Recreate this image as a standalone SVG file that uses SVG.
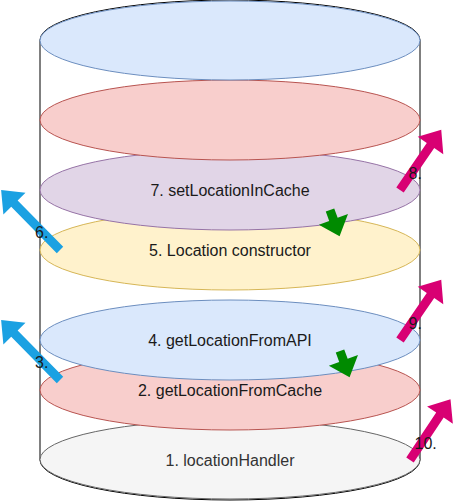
<svg xmlns="http://www.w3.org/2000/svg" xmlns:xlink="http://www.w3.org/1999/xlink" width="453" height="501" viewBox="0 0 453 501">
<style>
.lbl{font-family:"Liberation Sans",Arial,sans-serif;font-size:16px;text-anchor:middle;fill:#1a1a1a}
.albl{font-family:"Liberation Sans",Arial,sans-serif;font-size:16px;fill:#1a1a1a}
.blue{fill:#dae8fc;stroke:#6c8ebf}
.red{fill:#f8cecc;stroke:#b85450}
.purple{fill:#e1d5e7;stroke:#9673a6}
.yellow{fill:#fff2cc;stroke:#d6b656}
.grey{fill:#f5f5f5;stroke:#666666}
.ab{fill:#1ba1e2}
.ap{fill:#d80073}
.ag{fill:#008a00}
</style>
<defs>
<path id="arrLong" d="M0,-4.5 L65,-4.5 L65,-15.5 L84,0 L65,15.5 L65,4.5 L0,4.5 Z"/>
<path id="arrMid" d="M0,-4.5 L54,-4.5 L54,-15.5 L73,0 L54,15.5 L54,4.5 L0,4.5 Z"/>
<path id="arrShort" d="M0,-4.5 L10,-4.5 L10,-15.5 L28,0 L10,15.5 L10,4.5 L0,4.5 Z"/>
</defs>
<g id="cylinder">
<path d="M40,40 A190,40 0 0 1 420,40 L420,460 A190,40 0 0 1 40,460 Z" fill="#ffffff" stroke="#000000" stroke-width="1"/>
</g>
<g id="node1">
<ellipse class="grey" cx="230" cy="459.5" rx="190" ry="39.5"/>
<text class="lbl" x="230" y="466" style="fill:#333333">1. locationHandler</text>
</g>
<g id="node2">
<ellipse class="red" cx="230" cy="390" rx="190" ry="40"/>
<text class="lbl" x="230" y="396">2. getLocationFromCache</text>
</g>
<g id="node4">
<ellipse class="blue" cx="230" cy="340" rx="190" ry="40"/>
<text class="lbl" x="230" y="346">4. getLocationFromAPI</text>
</g>
<g id="node5">
<ellipse class="yellow" cx="230" cy="250" rx="190" ry="40"/>
<text class="lbl" x="230" y="256">5. Location constructor</text>
</g>
<g id="node7">
<ellipse class="purple" cx="230" cy="190" rx="190" ry="40"/>
<text class="lbl" x="230" y="196">7. setLocationInCache</text>
</g>
<g id="layerRed">
<ellipse class="red" cx="230" cy="120" rx="190" ry="40"/>
</g>
<g id="layerBlue">
<ellipse class="blue" cx="230" cy="40.5" rx="190" ry="39.5"/>
</g>
<g id="connectors">
<use xlink:href="#arrLong" class="ab" transform="translate(60,250) rotate(-134.5)"/>
<use xlink:href="#arrLong" class="ab" transform="translate(60,380) rotate(-134.5)"/>
<use xlink:href="#arrMid" class="ap" transform="translate(400,190) rotate(-55.6)"/>
<use xlink:href="#arrMid" class="ap" transform="translate(400,340) rotate(-55.6)"/>
<use xlink:href="#arrMid" class="ap" transform="translate(410,460) rotate(-56.3)"/>
<use xlink:href="#arrShort" class="ag" transform="translate(330,210) rotate(70)"/>
<use xlink:href="#arrShort" class="ag" transform="translate(340,351) rotate(70)"/>
<text class="albl" x="35" y="237.5">6.</text>
<text class="albl" x="35" y="367.5">3.</text>
<text class="albl" x="408.5" y="178.5">8.</text>
<text class="albl" x="408.5" y="328.5">9.</text>
<text class="albl" x="414.5" y="449">10.</text>
</g>
</svg>
